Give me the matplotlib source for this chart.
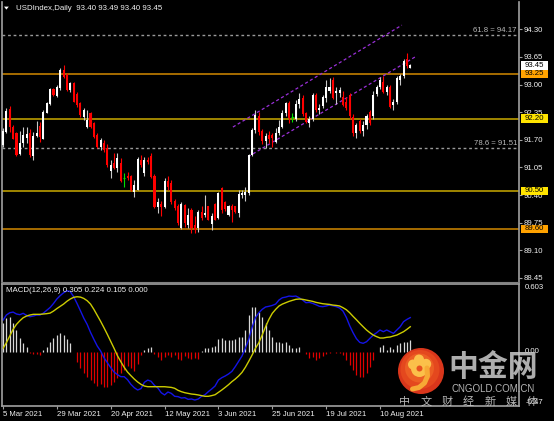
import matplotlib
matplotlib.use("Agg")
import matplotlib.pyplot as plt
import matplotlib.transforms as mtransforms
from matplotlib.patches import Rectangle, Circle, Polygon
import numpy as np

plt.rcParams['font.family'] = ['Liberation Sans', 'DejaVu Sans']

# ---- USDIndex daily bars, starting 5 Mar 2021 ----
opens = [91.58, 91.89, 92.42, 92.01, 91.85, 91.36, 91.62, 91.75, 91.85, 91.32,
         91.79, 92.03, 91.73, 92.34, 92.54, 92.89, 92.74, 92.92, 93.34, 93.23,
         92.87, 93.03, 92.79, 92.56, 92.24, 92.01, 92.32, 92.09, 91.81, 91.54,
         91.62, 91.50, 90.97, 91.15, 91.03, 91.15, 90.81, 90.85, 90.85, 90.48,
         90.53, 91.22, 90.93, 91.22, 91.32, 90.85, 90.12, 90.20, 90.12, 90.72,
         90.68, 90.26, 90.14, 89.62, 90.17, 89.69, 90.05, 89.70, 89.62, 90.01,
         89.93, 90.13, 89.72, 90.20, 89.85, 90.56, 90.24, 89.93, 90.13, 90.13,
         89.97, 90.40, 90.40, 90.45, 91.34, 91.93, 92.25, 91.90, 91.68, 91.82,
         91.82, 91.66, 91.85, 92.01, 92.32, 92.56, 92.23, 92.20, 92.55, 92.68,
         92.32, 92.10, 92.18, 92.75, 92.40, 92.50, 92.68, 92.85, 93.10, 92.80,
         92.80, 92.70, 92.60, 92.75, 92.24, 91.85, 92.15, 91.90, 92.05, 92.35,
         92.25, 92.78, 92.95, 93.07, 92.83, 92.95, 92.52, 92.60, 93.10, 93.20,
         93.60, 93.40]
highs = [91.97, 92.44, 92.50, 92.05, 91.89, 91.91, 92.01, 92.01, 91.95, 91.89,
         92.15, 92.13, 92.40, 92.60, 92.91, 92.93, 92.98, 93.38, 93.46, 93.28,
         93.06, 93.07, 92.82, 92.60, 92.46, 92.40, 92.36, 92.12, 91.85, 91.74,
         91.70, 91.60, 91.22, 91.38, 91.38, 91.26, 90.91, 90.95, 90.88, 90.75,
         91.29, 91.35, 91.30, 91.30, 91.40, 90.90, 90.32, 90.25, 90.80, 90.85,
         90.75, 90.30, 90.20, 90.24, 90.20, 90.09, 90.09, 89.90, 90.05, 90.13,
         90.40, 90.15, 89.97, 90.22, 90.48, 90.58, 90.26, 90.17, 90.20, 90.15,
         90.53, 90.52, 90.60, 91.37, 91.97, 92.40, 92.36, 91.95, 91.85, 91.90,
         91.85, 91.97, 92.17, 92.40, 92.60, 92.62, 92.32, 92.64, 92.80, 92.76,
         92.35, 92.25, 92.80, 92.80, 92.55, 92.75, 93.10, 93.15, 93.19, 92.95,
         92.95, 92.85, 92.70, 92.80, 92.30, 92.10, 92.20, 92.15, 92.30, 92.40,
         92.85, 92.98, 93.19, 93.20, 93.00, 92.99, 92.65, 93.20, 93.25, 93.60,
         93.74, 93.49]
lows = [91.54, 91.85, 91.89, 91.71, 91.32, 91.34, 91.54, 91.62, 91.30, 91.22,
        91.77, 91.66, 91.71, 92.32, 92.52, 92.72, 92.70, 92.88, 93.15, 92.84,
        92.82, 92.58, 92.48, 92.24, 92.16, 91.98, 91.97, 91.74, 91.50, 91.46,
        91.42, 91.07, 90.79, 91.02, 90.95, 90.70, 90.60, 90.75, 90.50, 90.35,
        90.52, 91.05, 90.85, 91.12, 90.80, 90.10, 89.97, 89.91, 90.10, 90.52,
        90.20, 90.05, 89.70, 89.59, 89.65, 89.62, 89.50, 89.50, 89.53, 89.81,
        89.89, 89.81, 89.58, 89.81, 89.83, 89.97, 90.02, 89.91, 89.77, 89.97,
        89.89, 90.32, 90.27, 90.40, 91.32, 91.85, 91.81, 91.60, 91.50, 91.62,
        91.52, 91.62, 91.81, 91.97, 92.25, 92.09, 92.13, 92.15, 92.45, 92.25,
        92.09, 92.01, 92.15, 92.35, 92.30, 92.45, 92.60, 92.80, 92.65, 92.55,
        92.70, 92.50, 92.40, 92.20, 91.80, 91.75, 91.85, 91.80, 91.95, 92.05,
        92.20, 92.72, 92.90, 92.80, 92.75, 92.45, 92.40, 92.55, 93.00, 93.15,
        93.40, 93.40]
closes = [91.91, 92.38, 92.01, 91.73, 91.34, 91.62, 91.81, 91.83, 91.34, 91.79,
          91.87, 91.76, 92.36, 92.56, 92.89, 92.76, 92.94, 93.34, 93.19, 92.87,
          93.03, 92.60, 92.52, 92.28, 92.40, 92.17, 92.01, 91.77, 91.54, 91.70,
          91.46, 91.11, 91.11, 91.04, 91.26, 90.74, 90.81, 90.79, 90.52, 90.64,
          91.24, 91.11, 91.22, 91.18, 90.83, 90.12, 90.24, 90.12, 90.74, 90.60,
          90.24, 90.09, 89.73, 90.20, 89.73, 89.93, 89.62, 89.58, 90.01, 89.85,
          89.98, 89.81, 89.91, 89.81, 90.44, 90.05, 90.06, 90.13, 90.05, 89.99,
          90.42, 90.44, 90.48, 91.34, 91.92, 92.28, 91.88, 91.68, 91.78, 91.72,
          91.75, 91.85, 92.01, 92.32, 92.56, 92.21, 92.23, 92.55, 92.65, 92.30,
          92.12, 92.20, 92.75, 92.40, 92.45, 92.70, 92.95, 92.95, 92.68, 92.85,
          92.88, 92.52, 92.45, 92.25, 91.85, 92.05, 91.90, 92.05, 92.25, 92.10,
          92.75, 92.95, 93.11, 92.83, 92.95, 92.48, 92.60, 93.15, 93.20, 93.56,
          93.43, 93.45]

# MACD(12,26,9): main line, signal line, histogram
macd_main = [0.283, 0.328, 0.348, 0.354, 0.337, 0.331, 0.343, 0.325, 0.313, 0.319,
             0.328, 0.328, 0.345, 0.370, 0.395, 0.430, 0.470, 0.500, 0.525, 0.543,
             0.535, 0.490, 0.430, 0.366, 0.300, 0.245, 0.174, 0.112, 0.053, 0.009,
             -0.051, -0.095, -0.139, -0.178, -0.201, -0.219, -0.219, -0.246, -0.287, -0.317,
             -0.337, -0.325, -0.269, -0.249, -0.260, -0.296, -0.319, -0.361, -0.381, -0.355,
             -0.367, -0.393, -0.396, -0.408, -0.405, -0.420, -0.417, -0.426, -0.417, -0.393,
             -0.379, -0.352, -0.328, -0.302, -0.249, -0.228, -0.213, -0.195, -0.172, -0.130,
             -0.083, -0.036, 0.032, 0.112, 0.218, 0.304, 0.348, 0.378, 0.399, 0.405,
             0.413, 0.425, 0.461, 0.481, 0.487, 0.496, 0.493, 0.496, 0.481, 0.461,
             0.437, 0.440, 0.431, 0.419, 0.405, 0.402, 0.408, 0.416, 0.410, 0.402,
             0.390, 0.363, 0.307, 0.233, 0.171, 0.118, 0.085, 0.077, 0.091, 0.121,
             0.150, 0.171, 0.195, 0.180, 0.195, 0.180, 0.165, 0.195, 0.224, 0.269,
             0.289, 0.305]
macd_signal = [0.032, 0.082, 0.142, 0.201, 0.245, 0.277, 0.304, 0.319, 0.328, 0.334,
               0.334, 0.334, 0.337, 0.340, 0.345, 0.363, 0.385, 0.405, 0.425, 0.450,
               0.470, 0.485, 0.490, 0.487, 0.475, 0.455, 0.425, 0.378, 0.325, 0.272,
               0.215, 0.156, 0.094, 0.032, -0.033, -0.086, -0.136, -0.178, -0.210, -0.240,
               -0.266, -0.287, -0.302, -0.308, -0.308, -0.308, -0.308, -0.308, -0.308, -0.311,
               -0.314, -0.322, -0.340, -0.352, -0.361, -0.367, -0.373, -0.376, -0.381, -0.387,
               -0.393, -0.393, -0.387, -0.379, -0.358, -0.337, -0.314, -0.290, -0.263, -0.240,
               -0.213, -0.181, -0.136, -0.083, -0.027, 0.032, 0.082, 0.150, 0.224, 0.289,
               0.343, 0.378, 0.408, 0.425, 0.437, 0.449, 0.458, 0.467, 0.470, 0.467,
               0.461, 0.455, 0.449, 0.440, 0.434, 0.428, 0.425, 0.422, 0.416, 0.413,
               0.408, 0.393, 0.375, 0.348, 0.316, 0.286, 0.254, 0.224, 0.195, 0.171,
               0.150, 0.136, 0.124, 0.124, 0.130, 0.133, 0.142, 0.150, 0.165, 0.180,
               0.201, 0.224]
macd_hist = [0.254, 0.298, 0.313, 0.254, 0.195, 0.121, 0.077, 0.047, -0.009, -0.015,
             -0.021, -0.030, 0.017, 0.047, 0.091, 0.121, 0.150, 0.165, 0.150, 0.112,
             0.077, 0.003, -0.086, -0.145, -0.190, -0.219, -0.249, -0.278, -0.302, -0.284,
             -0.308, -0.314, -0.293, -0.263, -0.234, -0.190, -0.160, -0.124, -0.140, -0.170,
             -0.110, -0.030, 0.017, 0.032, 0.047, -0.015, -0.042, -0.071, -0.042, -0.030,
             -0.042, -0.030, -0.059, -0.071, -0.036, -0.056, -0.065, -0.056, -0.065, 0.012,
             0.032, 0.032, 0.047, 0.053, 0.112, 0.121, 0.106, 0.106, 0.106, 0.112,
             0.130, 0.136, 0.195, 0.328, 0.402, 0.402, 0.357, 0.313, 0.254, 0.195,
             0.136, 0.091, 0.091, 0.077, 0.091, 0.062, 0.032, 0.032, 0.047, 0.003,
             -0.018, -0.056, -0.047, -0.071, -0.056, -0.036, -0.018, -0.006, -0.003, -0.006,
             -0.012, -0.027, -0.071, -0.116, -0.160, -0.204, -0.225, -0.219, -0.190, -0.130,
             -0.071, -0.003, 0.047, 0.062, 0.018, 0.047, 0.030, 0.062, 0.080, 0.085,
             0.091, 0.105]

date_ticks = [0, 16, 32, 48, 64, 80, 96, 112]
date_labels = ['5 Mar 2021', '29 Mar 2021', '20 Apr 2021', '12 May 2021',
               '3 Jun 2021', '25 Jun 2021', '19 Jul 2021', '10 Aug 2021']
price_ticks = [94.30, 93.65, 93.00, 92.35, 91.70, 91.05, 90.40, 89.75, 89.10, 88.45]

# support / resistance levels
level_prices = [93.25, 92.20, 90.50, 89.60]
level_kinds = ['orange', 'yellow', 'yellow', 'orange']
# fibonacci retracement levels
fib_ratios = ['61.8', '78.6']
fib_prices = [94.17, 91.51]
# rising channel (bar index, price)
channel_upper_x = [68.3, 118.5]
channel_upper_y = [92.00, 94.40]
channel_lower_x = [72.8, 122.4]
channel_lower_y = [91.30, 93.65]

# ---------------- layout ----------------
W, H = 554, 421
fig = plt.figure(figsize=(W / 100, H / 100), dpi=100, facecolor='black')


def fbox(x0, y0, x1, y1):
    return [x0 / W, 1 - y1 / H, (x1 - x0) / W, (y1 - y0) / H]


ax = fig.add_axes(fbox(2, 2, 519, 282), facecolor='black')
mx = fig.add_axes(fbox(2, 284, 519, 406), facecolor='black')

XMIN, XMAX = -0.3, 153.3
PMIN, PMAX = 88.352, 94.945
ax.set_xlim(XMIN, XMAX)
ax.set_ylim(PMIN, PMAX)
mx.set_xlim(XMIN, XMAX)
mx.set_ylim(-0.479, 0.603)

FS = 5.6
TXT = '#F0F0F0'
FRAME = '#A0A0A0'

o = np.array(opens); h = np.array(highs); l = np.array(lows); c = np.array(closes)
x = np.arange(len(c))
bull = c > o
bear = c < o
doji = c == o

BW = 0.62
ax.vlines(x[bull], l[bull], h[bull], color='#C8C8C8', lw=0.8, zorder=3)
ax.vlines(x[bear], l[bear], h[bear], color='#FF0000', lw=0.8, zorder=3)
ax.vlines(x[doji], l[doji], h[doji], color='#00E000', lw=0.8, zorder=3)
ax.bar(x[bull], (c - o)[bull], bottom=o[bull], width=BW, color='#FFFFFF', lw=0, zorder=4)
ax.bar(x[bear], (o - c)[bear], bottom=c[bear], width=BW, color='#FF0000', lw=0, zorder=4)
ax.hlines(o[doji], x[doji] - BW / 2, x[doji] + BW / 2, color='#00E000', lw=0.8, zorder=4)

line_col = {'orange': '#D38A00', 'yellow': '#CBAA00'}
box_col = {'orange': '#FFA200', 'yellow': '#FFE400'}
for p, k in zip(level_prices, level_kinds):
    ax.axhline(p, color=line_col[k], lw=1.1, zorder=2)

ytr = mtransforms.blended_transform_factory(ax.transAxes, ax.transData)
for r, p in zip(fib_ratios, fib_prices):
    ax.axhline(p, color='#9A9A9A', lw=1.0, ls=(0, (2, 2)), zorder=2)
    ax.text(0.996, p + 0.03, f'{r} = {p:.2f}', transform=ytr,
            ha='right', va='bottom', fontsize=FS, color='#B8B8B8', zorder=5)

ax.plot(channel_upper_x, channel_upper_y, color='#9A30D8', lw=0.9, ls=(0, (2.5, 2)), zorder=2.5)
ax.plot(channel_lower_x, channel_lower_y, color='#9A30D8', lw=0.9, ls=(0, (2.5, 2)), zorder=2.5)

# right price scale
ax.yaxis.tick_right()
ax.set_yticks(price_ticks)
ax.set_yticklabels([f'{p:.2f}' for p in price_ticks])
ax.tick_params(axis='y', length=2, width=0.8, pad=1.5, labelsize=FS, colors=TXT)
ax.tick_params(axis='y', color=FRAME)
ax.set_xticks([])
for s in ['left', 'right']:
    ax.spines[s].set_color(FRAME)
    ax.spines[s].set_linewidth(1.2)
ax.spines['bottom'].set_color('#808080')
ax.spines['top'].set_visible(False)

# price tags on the scale
ax_h_px = 280.0
p_per_px = (PMAX - PMIN) / ax_h_px
box_w = 27.0 / 517.0
box_h = 8.4 * p_per_px


def price_tag(price, fc):
    ax.add_patch(Rectangle((1.0035, price - box_h / 2), box_w, box_h, transform=ytr,
                           facecolor=fc, edgecolor='none', clip_on=False, zorder=6))
    ax.text(1.0035 + box_w / 2, price, f'{price:.2f}', transform=ytr, ha='center', va='center',
            fontsize=FS, color='#000000', clip_on=False, zorder=7)


price_tag(closes[-1], '#FFFFFF')
for p, k in zip(level_prices, level_kinds):
    price_tag(p, box_col[k])

# ---------------- MACD panel ----------------
hist = np.array(macd_hist)
pos = hist >= 0
mx.vlines(x[pos], 0, hist[pos], color='#D8D8D8', lw=0.9)
mx.vlines(x[~pos], 0, hist[~pos], color='#E00000', lw=0.9)
mx.plot(x, macd_main, color='#1414E6', lw=1.0)
mx.plot(x, macd_signal, color='#CCCC00', lw=1.0)

mx.set_yticks([])
mx.set_xticks(date_ticks)
mx.set_xticklabels(date_labels)
for lab in mx.get_xticklabels():
    lab.set_ha('left')
mx.tick_params(axis='x', length=2.5, width=0.8, pad=0.8, labelsize=FS, colors=TXT)
mx.tick_params(axis='x', color=FRAME)
for s in mx.spines.values():
    s.set_color(FRAME)
    s.set_linewidth(1.2)

mtr = mtransforms.blended_transform_factory(mx.transAxes, mx.transData)
mx.text(1.012, 0.603, '0.603', transform=mtr, ha='left', va='top', fontsize=FS, color=TXT, clip_on=False)
mx.text(1.012, 0.0, '0.00', transform=mtr, ha='left', va='center', fontsize=FS, color=TXT, clip_on=False)
mx.text(1.012, -0.479, '-0.47', transform=mtr, ha='left', va='bottom', fontsize=FS, color=TXT, clip_on=False)

# ---------------- overlay: titles and watermark ----------------
ov = fig.add_axes([0, 0, 1, 1], zorder=10)
ov.set_xlim(0, W)
ov.set_ylim(H, 0)
ov.axis('off')
ov.patch.set_alpha(0)

ov.add_patch(Polygon([(4.0, 6.6), (8.8, 6.6), (6.4, 9.6)], closed=True, facecolor='white', edgecolor='none'))
ov.text(16, 8.3, f'USDIndex,Daily  {opens[-1]:.2f} {highs[-1]:.2f} {lows[-1]:.2f} {closes[-1]:.2f}',
        ha='left', va='center', fontsize=5.7, color=TXT)
hpos = max(macd_hist[-1], 0.0)
hneg = abs(min(macd_hist[-1], 0.0))
ov.text(6, 291, f'MACD(12,26,9) {macd_main[-1]:.3f} {macd_signal[-1]:.3f} {hpos:.3f} {hneg:.3f}',
        ha='left', va='center', fontsize=5.7, color=TXT)

# logo: red disc with a golden swirl
ov.add_patch(Circle((421.0, 371.0), 23, facecolor='#D9361B', edgecolor='none'))
ov.add_patch(Circle((420.0, 369.5), 19.5, facecolor='#E4481E', edgecolor='none'))
ov.add_patch(Circle((419.5, 368.0), 14.5, facecolor='#EC5E24', edgecolor='none'))
for cx, cy, rr in [(419.5, 368.5, 8.5), (413.0, 364.5, 5.0), (419.0, 359.5, 5.0), (426.0, 364.0, 5.2)]:
    ov.add_patch(Circle((cx, cy), rr, facecolor='#FBC04A', edgecolor='none'))
ov.plot([427.0, 427.5, 424.5, 419.0, 412.5], [368.0, 376.0, 383.0, 387.5, 389.0], color='#F7A935',
        lw=3.6, solid_capstyle='round')
ov.add_patch(Circle((419.5, 368.5), 3.0, facecolor='#E8521F', edgecolor='none'))

cjk = ['Noto Sans CJK SC', 'DejaVu Sans']
ov.text(493, 367, '中金网', ha='center', va='center', fontsize=21.5, family=cjk, weight='bold',
        color='#C6C6C6', alpha=0.88)
ov.text(493.5, 389.5, 'CNGOLD.COM.CN', ha='center', va='center', fontsize=7, color='#C8C8C8', alpha=0.9)
sub_chars = ['中', '文', '财', '经', '新', '媒', '体']
sub_x = [405, 426, 447.5, 468.5, 490, 511, 532]
for ch, xc in zip(sub_chars, sub_x):
    ov.text(xc, 401.5, ch, ha='center', va='center', fontsize=8, family=cjk, color='#C8C8C8', alpha=0.9)

fig.savefig('out.png', dpi=100, facecolor='black')
